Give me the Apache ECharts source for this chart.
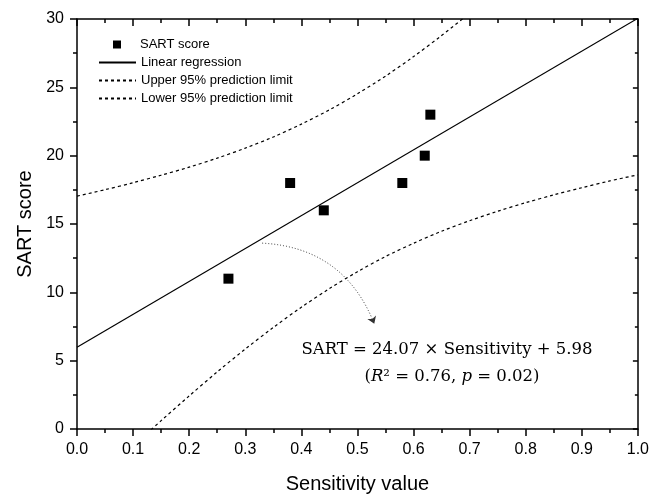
<!DOCTYPE html>
<html>
<head>
<meta charset="utf-8">
<script src="https://cdn.jsdelivr.net/npm/echarts@6/dist/echarts.min.js"></script>
<style>html,body{margin:0;padding:0;background:#fff}#c{width:652px;height:499px}</style>
</head>
<body>
<div id="c"></div>
<script>
// ---- data ----
const sensitivity = [0.27, 0.38, 0.44, 0.58, 0.62, 0.63];
const sartScore   = [11, 18, 16, 18, 20, 23];

const regX = [0, 1.0];
const regY = [5.98, 30.05];

const upperX = [0, 0.05, 0.1, 0.15, 0.2, 0.25, 0.3, 0.35, 0.4, 0.45, 0.5, 0.55, 0.6, 0.65, 0.7];
const upperY = [17.04, 17.51, 18.02, 18.57, 19.16, 19.82, 20.55, 21.37, 22.31, 23.35, 24.53, 25.82, 27.25, 28.79, 30.42];

const lowerX = [0.1, 0.15, 0.2, 0.25, 0.3, 0.35, 0.4, 0.45, 0.5, 0.55, 0.6, 0.65, 0.7, 0.75, 0.8, 0.85, 0.9, 0.95, 1.0];
const lowerY = [-1.24, 0.61, 2.42, 4.18, 5.85, 7.43, 8.91, 10.27, 11.51, 12.62, 13.59, 14.47, 15.24, 15.93, 16.56, 17.13, 17.65, 18.15, 18.60];

const arrowFrom = [0.33, 13.6];
const arrowTo   = [0.53, 7.7];

const seriesNames = ['SART score', 'Linear regression', 'Upper 95% prediction limit', 'Lower 95% prediction limit'];
const xTicks = { min: 0, max: 1.0, interval: 0.1 };
const yTicks = { min: 0, max: 30, interval: 5 };
const eqLine1 = 'SART = 24.07 × Sensitivity + 5.98';
const eqLine2 = '({i|R}² = 0.76, {i|p} = 0.02)';

// ---- chart ----
const pairs = (xs, ys) => xs.map((x, i) => [x, ys[i]]);
const sans = '"Liberation Sans", Arial, sans-serif';
const serif = '"DejaVu Serif", serif';
const black = '#000';
const axLine = { onZero: false, lineStyle: { color: black, width: 1.5 } };
const tickStyle = { color: black, width: 1.5 };

function mkX(pos) {
  const bottom = pos === 'bottom';
  return {
    type: 'value', position: pos, min: xTicks.min, max: xTicks.max, interval: xTicks.interval,
    name: bottom ? 'Sensitivity value' : '', nameLocation: 'middle', nameGap: 45,
    nameTextStyle: { fontSize: 20, color: black, fontFamily: sans },
    axisLine: axLine,
    axisTick: { show: true, inside: !bottom, length: 7, lineStyle: tickStyle },
    minorTick: { show: true, splitNumber: 2, length: 4, lineStyle: tickStyle },
    axisLabel: { show: bottom, fontSize: 16, color: black, fontFamily: sans, margin: 13,
      showMinLabel: true, showMaxLabel: true, formatter: v => v.toFixed(1) },
    splitLine: { show: false }, minorSplitLine: { show: false }
  };
}
function mkY(pos) {
  const left = pos === 'left';
  return {
    type: 'value', position: pos, min: yTicks.min, max: yTicks.max, interval: yTicks.interval,
    name: left ? 'SART score' : '', nameLocation: 'middle', nameGap: 42, nameRotate: 90,
    nameTextStyle: { fontSize: 20, color: black, fontFamily: sans },
    axisLine: axLine,
    axisTick: { show: true, inside: !left, length: left ? 7 : 5, lineStyle: tickStyle },
    minorTick: { show: true, splitNumber: 2, length: left ? 4 : 3, lineStyle: tickStyle },
    axisLabel: { show: left, fontSize: 16, color: black, fontFamily: sans, margin: 13,
      showMinLabel: true, showMaxLabel: true },
    splitLine: { show: false }, minorSplitLine: { show: false }
  };
}

const hideSym = { opacity: 0 };
const legendText = { fontSize: 13, color: black, fontFamily: sans, lineHeight: 13 };
const chart = echarts.init(document.getElementById('c'), null, { renderer: 'canvas' });
chart.setOption({
  animation: false,
  backgroundColor: '#fff',
  grid: { left: 77, right: 11, top: 19, bottom: 64 },
  xAxis: [mkX('bottom'), mkX('top')],
  yAxis: [mkY('left'), mkY('right')],
  legend: [
    {
      orient: 'vertical', left: 113, top: 38, padding: 0,
      itemWidth: 8, itemHeight: 8, selectedMode: false,
      textStyle: Object.assign({ padding: [0, 0, 0, 14] }, legendText),
      data: [{ name: seriesNames[0], icon: 'rect', itemStyle: { color: black, opacity: 1 } }]
    },
    {
      orient: 'vertical', left: 98, top: 56, padding: 0,
      itemWidth: 37, itemHeight: 8, itemGap: 5, selectedMode: false,
      textStyle: legendText,
      data: [
        { name: seriesNames[1], itemStyle: hideSym },
        { name: seriesNames[2], itemStyle: hideSym },
        { name: seriesNames[3], itemStyle: hideSym }
      ]
    }
  ],
  series: [
    { name: seriesNames[0], type: 'scatter', symbol: 'rect', symbolSize: 10, z: 5,
      itemStyle: { color: black, opacity: 1 }, data: pairs(sensitivity, sartScore) },
    { name: seriesNames[1], type: 'line', symbol: 'none', showSymbol: false,
      lineStyle: { color: black, width: 1.2 }, itemStyle: { color: black },
      data: pairs(regX, regY) },
    { name: seriesNames[2], type: 'line', symbol: 'none', showSymbol: false, smooth: 0.3,
      lineStyle: { color: black, width: 1.2, type: [3, 3] }, itemStyle: { color: black },
      data: pairs(upperX, upperY) },
    { name: seriesNames[3], type: 'line', symbol: 'none', showSymbol: false, smooth: 0.3,
      lineStyle: { color: black, width: 1.2, type: [3, 3] }, itemStyle: { color: black },
      data: pairs(lowerX, lowerY) },
    { name: 'annotation', type: 'lines', coordinateSystem: 'cartesian2d',
      symbol: ['none', 'arrow'], symbolSize: 7, silent: true,
      lineStyle: { color: '#333', width: 1, type: [1, 2], curveness: 0.32, opacity: 1 },
      itemStyle: { color: '#000' },
      data: [{ coords: [arrowFrom, arrowTo] }] }
  ],
  graphic: [
    { type: 'text', x: 447, y: 350, silent: true,
      style: { text: eqLine1, fontSize: 16.5, fontFamily: serif, fill: black, align: 'center', verticalAlign: 'middle' } },
    { type: 'text', x: 452, y: 377, silent: true,
      style: { text: eqLine2, fontSize: 16.5, fontFamily: serif, fill: black, align: 'center', verticalAlign: 'middle',
        rich: { i: { fontStyle: 'italic', fontSize: 16.5, fontFamily: serif, fill: black } } } }
  ]
});
</script>
</body>
</html>
